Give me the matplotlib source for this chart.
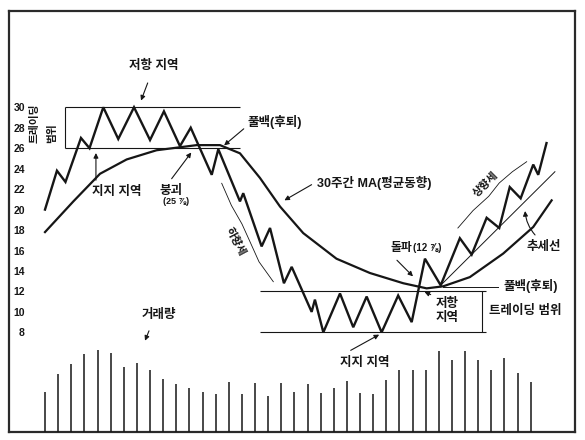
import numpy as np
import matplotlib.pyplot as plt

plt.rcParams['font.family'] = ['Liberation Sans', 'Noto Sans CJK KR']
plt.rcParams['font.weight'] = 'bold'

ink = '#161616'

# 주가 (주 단위 x, 가격 y)
price_w = [0, 0.91, 1.56, 2.74, 3.39, 4.44, 5.58, 6.78, 8.0, 9.06, 10.28, 11.1,
           12.7, 13.2, 14.85, 15.1, 16.5, 17.14, 18.2, 18.79, 20.31, 20.56, 21.2,
           22.47, 23.48, 24.5, 25.64, 26.9, 27.93, 28.94, 30.14, 31.6, 32.5,
           33.64, 34.6, 35.4, 36.23, 37.19, 37.57, 38.2]
price_p = [20.0, 23.8, 22.7, 27.0, 26.0, 30.0, 26.9, 30.0, 26.8, 29.6, 26.2, 28.0,
           23.4, 25.9, 20.8, 21.6, 16.4, 18.2, 12.8, 14.4, 10.0, 11.2, 8.0,
           11.8, 8.5, 11.5, 8.0, 11.6, 9.0, 15.2, 12.6, 17.2, 15.6,
           19.2, 18.2, 22.2, 21.1, 24.4, 23.4, 26.5]

# 30주 이동평균
ma_w = [0, 2.16, 4.19, 6.22, 8.5, 11.55, 13.33, 14.85, 16.37, 17.9, 19.67,
        22.2, 24.75, 27.29, 29.07, 30.33, 32.36, 34.9, 37.19, 38.59]
ma_p = [17.8, 20.8, 23.5, 24.9, 25.8, 26.3, 26.3, 25.5, 23.1, 20.3, 17.7,
        15.2, 13.8, 12.8, 12.3, 12.5, 13.4, 15.7, 18.3, 20.9]

# 추세선
trend_w = [30.14, 38.84]
trend_p = [12.6, 23.7]

# 거래량
vol = [40, 58, 68, 78, 82, 79, 65, 69, 62, 53, 48, 44, 40, 38, 50, 38, 49, 36,
       49, 40, 48, 39, 44, 51, 39, 38, 52, 62, 62, 62, 81, 72, 81, 72, 62, 74,
       59, 50]
vol_w = np.arange(len(vol))

yticks = [8, 10, 12, 14, 16, 18, 20, 22, 24, 26, 28, 30]

fig = plt.figure(figsize=(5.85, 4.4), dpi=100)
ax = fig.add_axes([9/585, 8/440, 566/585, 421/440])
ax.set_xlim(-2.742, 40.37)
ax.set_ylim(-1.74, 39.41)
for s in ax.spines.values():
    s.set_linewidth(1.6)
    s.set_color('#2a2a2a')
ax.set_xticks([])
ax.set_yticks(yticks)
ax.tick_params(axis='y', length=0, pad=-11.5, labelsize=7.5, colors=ink)

# 트레이딩 범위 (상단 / 하단)
ax.hlines([30, 26], 1.55, 14.85, color=ink, lw=0.8)
ax.vlines(1.55, 26, 30, color=ink, lw=0.8)
ax.hlines([12, 8], 16.37, 33.6, color=ink, lw=0.8)
ax.vlines(33.3, 8, 12, color=ink, lw=0.8)

ax.plot(price_w, price_p, color=ink, lw=1.7, solid_joinstyle='miter')
ax.plot(ma_w, ma_p, color=ink, lw=1.6)
ax.plot(trend_w, trend_p, color=ink, lw=0.7)

axv = ax.twinx()
axv.set_ylim(0, 421)
axv.axis('off')
axv.vlines(vol_w, 0, vol, color=ink, lw=1.1)

arrow = dict(arrowstyle='-|>', color=ink, lw=0.8, mutation_scale=7)
fs = 9

ax.annotate('저항 지역', xy=(7.24, 30.4), xytext=(8.3, 34.0), fontsize=fs,
            ha='center', va='center', color=ink,
            arrowprops=dict(arrow, shrinkA=6))
ax.annotate('', xy=(3.88, 25.8), xytext=(3.88, 22.6), arrowprops=arrow)
ax.text(5.45, 21.75, '지지 지역', fontsize=fs, ha='center', va='center', color=ink)
ax.annotate('', xy=(11.27, 25.8), xytext=(9.52, 22.8), arrowprops=arrow)
ax.text(9.6, 21.8, '붕괴', fontsize=fs, ha='center', va='center', color=ink)
ax.text(9.98, 20.8, '(25 ⅞)', fontsize=6.5, ha='center', va='center', color=ink)
ax.text(17.52, 28.56, '풀백(후퇴)', fontsize=fs, ha='center', va='center', color=ink)
ax.annotate('', xy=(13.48, 26.1), xytext=(15.3, 28.07), arrowprops=arrow)

ax.text(-0.76, 26.5, '트레이딩', fontsize=7.7, rotation=90, ha='center', va='bottom', color=ink)
ax.text(0.53, 26.5, '범위', fontsize=7.7, rotation=90, ha='center', va='bottom', color=ink)

ax.text(20.7, 22.65, '30주간 MA(평균동향)', fontsize=fs, ha='left', va='center', color=ink)
ax.annotate('', xy=(18.05, 20.77), xytext=(20.49, 22.57), arrowprops=arrow)

ax.text(14.47, 16.86, '하향세', fontsize=8, rotation=-62, ha='center', va='center', color=ink)
ax.plot([13.46, 14.2, 15.0, 15.6, 16.3, 17.39], [22.57, 20.4, 18.6, 16.9, 14.9, 12.95],
        color=ink, lw=0.6)
ax.text(33.59, 22.5, '상향세', fontsize=8, rotation=45, ha='center', va='center', color=ink)
ax.plot([31.45, 32.6, 33.8, 34.6, 35.6, 36.69], [18.2, 19.9, 21.3, 22.6, 23.7, 24.68],
        color=ink, lw=0.6)

ax.text(27.95, 16.25, '돌파', fontsize=8.5, ha='right', va='center', color=ink)
ax.text(28.05, 16.25, '(12 ⅞)', fontsize=7, ha='left', va='center', color=ink)
ax.annotate('', xy=(28.18, 13.28), xytext=(26.66, 15.24), arrowprops=arrow)

ax.text(30.65, 10.09, '저항\n지역', fontsize=fs, ha='center', va='center',
        linespacing=1.15, color=ink)
ax.annotate('', xy=(28.71, 12.07), xytext=(29.57, 11.58), arrowprops=arrow)

ax.text(36.56, 10.04, '트레이딩 범위', fontsize=fs, ha='center', va='center', color=ink)
ax.text(37.01, 12.53, '풀백(후퇴)', fontsize=fs, ha='center', va='center', color=ink)
ax.plot([30.31, 34.5], [12.4, 12.4], color=ink, lw=0.7)
ax.text(38.0, 16.3, '추세선', fontsize=fs, ha='center', va='center', color=ink)
ax.annotate('', xy=(36.56, 20.13), xytext=(37.47, 17.32),
            arrowprops=dict(arrow, connectionstyle='arc3,rad=-0.2'))

ax.text(24.37, 5.05, '지지 지역', fontsize=fs, ha='center', va='center', color=ink)
ax.annotate('', xy=(25.64, 7.91), xytext=(23.1, 6.11), arrowprops=arrow)
ax.text(8.68, 9.7, '거래량', fontsize=fs, ha='center', va='center', color=ink)
ax.annotate('', xy=(7.54, 6.93), xytext=(8.0, 8.4), arrowprops=arrow)

fig.savefig('out.png', dpi=100)
